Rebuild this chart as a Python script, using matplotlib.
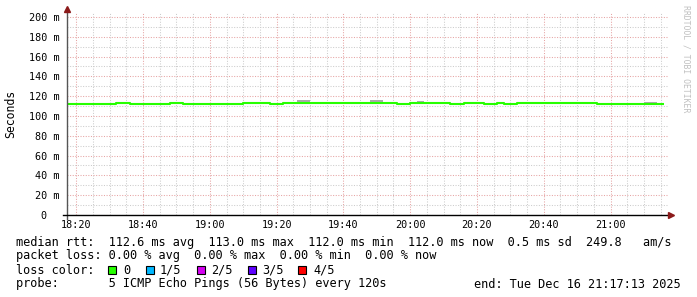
import numpy as np
import pandas as pd
import matplotlib
matplotlib.use("Agg")
import matplotlib.pyplot as plt
import matplotlib.dates as mdates
from matplotlib.patches import Rectangle
from matplotlib.ticker import MultipleLocator, FuncFormatter

#数据
day = "2025-12-16 "
t_start = pd.Timestamp(day + "18:17:13")
t_end = pd.Timestamp(day + "21:17:13")

# median rtt (ms), each value holds until the next time
median_times = ["18:16", "18:32", "18:36", "18:48", "18:52", "19:10", "19:18", "19:22", "19:56",
                "20:00", "20:12", "20:16", "20:22", "20:26", "20:28", "20:32", "20:56", "21:16"]
median_ms = [112, 113, 112, 113, 112, 113, 112, 113, 112,
             113, 112, 113, 112, 113, 112, 113, 112]

# smoke (spread of the pings)
smoke_start = ["18:42", "19:26", "19:48", "20:02", "21:10"]
smoke_end = ["18:46", "19:30", "19:52", "20:04", "21:14"]
smoke_low = [112, 113, 113, 113, 112]
smoke_high = [113.4, 116.5, 116, 115, 114]

loss_labels = ["0", "1/5", "2/5", "3/5", "4/5"]
loss_colors = ["#26ff00", "#00b8ff", "#d400f0", "#5e00ff", "#ff0000"]

legend_lines = [
    "median rtt:  112.6 ms avg  113.0 ms max  112.0 ms min  112.0 ms now  0.5 ms sd  249.8   am/s",
    "packet loss: 0.00 % avg  0.00 % max  0.00 % min  0.00 % now",
    "loss color:",
    "probe:       5 ICMP Echo Pings (56 Bytes) every 120s",
]
end_text = "end: Tue Dec 16 21:17:13 2025"

#绘图
W, H = 697, 297
mono = "DejaVu Sans Mono"
fig = plt.figure(figsize=(W / 100, H / 100), dpi=100)
fig.patch.set_facecolor("white")

def fx(x):
    return x / W

def fy(y):
    return 1 - y / H

ax_left, ax_right, ax_top, ax_bottom = 67, 668, 13, 215
ax = fig.add_axes([fx(ax_left), fy(ax_bottom), (ax_right - ax_left) / W, (ax_bottom - ax_top) / H])
ax.set_facecolor("white")

tm = [pd.Timestamp(day + t) for t in median_times]
ax.step(tm, median_ms + [median_ms[-1]], where="post", color="#26ff00", lw=1.5,
        solid_capstyle="butt", zorder=3)

for s, e, lo, hi in zip(smoke_start, smoke_end, smoke_low, smoke_high):
    ax.fill_between([pd.Timestamp(day + s), pd.Timestamp(day + e)], lo, hi,
                    color="#aaaaaa", lw=0, zorder=2)

ax.set_xlim(t_start, t_end)
ax.set_ylim(0, 204)

ax.xaxis.set_major_locator(mdates.MinuteLocator(byminute=[0, 20, 40]))
ax.xaxis.set_minor_locator(mdates.MinuteLocator(byminute=range(0, 60, 5)))
ax.xaxis.set_major_formatter(mdates.DateFormatter("%H:%M"))
ax.yaxis.set_major_locator(MultipleLocator(20))
ax.yaxis.set_minor_locator(MultipleLocator(10))
ax.yaxis.set_major_formatter(FuncFormatter(lambda v, p: "0  " if v == 0 else "%d m" % v))

ax.grid(which="major", color="#e6a4a4", lw=0.75, linestyle=(0, (1, 1.5)))
ax.grid(which="minor", color="#cccccc", lw=0.75, linestyle=(0, (1, 1.5)))
ax.set_axisbelow(True)

ax.tick_params(which="both", length=0)
ax.tick_params(axis="x", pad=3.5, labelsize=7.3)
ax.tick_params(axis="y", pad=5.5, labelsize=7.3)
for lab in ax.get_xticklabels() + ax.get_yticklabels():
    lab.set_fontfamily(mono)

for sp in ax.spines.values():
    sp.set_visible(False)

# axes with arrows
ax.plot([0, 0], [-0.02, 1.015], transform=ax.transAxes, color="#555555", lw=1, clip_on=False, zorder=4)
ax.plot([-0.007, 1.003], [0, 0], transform=ax.transAxes, color="#000000", lw=1, clip_on=False, zorder=4)
ax.plot([0], [1.02], marker="^", ms=4, color="#8b1a1a", transform=ax.transAxes, clip_on=False, zorder=5)
ax.plot([1.005], [0], marker=">", ms=4, color="#8b1a1a", transform=ax.transAxes, clip_on=False, zorder=5)

fig.text(fx(11), fy(114), "Seconds", rotation=90, ha="center", va="center",
         fontsize=8.3, family=mono, color="black")
fig.text(fx(686), fy(5), "RRDTOOL / TOBI OETIKER", rotation=270, ha="center", va="top",
         fontsize=5.9, family=mono, color="#c0c0c0")

fs = 8.55
baselines = [246, 259.5, 273.5, 287.5]
for line, yb in zip(legend_lines, baselines):
    fig.text(fx(16), fy(yb), line, ha="left", va="baseline", fontsize=fs, family=mono, color="black")
fig.text(fx(681), fy(baselines[3]), end_text, ha="right", va="baseline", fontsize=fs,
         family=mono, color="black")

box_x = [108, 146, 197, 248, 298]
label_x = [123, 160, 211, 262, 313]
for bx, lx, c, lab in zip(box_x, label_x, loss_colors, loss_labels):
    fig.patches.append(Rectangle((fx(bx), fy(273.5)), 8 / W, 8 / H, transform=fig.transFigure,
                                 facecolor=c, edgecolor="black", lw=0.8, figure=fig))
    fig.text(fx(lx), fy(baselines[2]), lab, ha="left", va="baseline", fontsize=fs,
             family=mono, color="black")

fig.savefig("out.png", dpi=100, facecolor="white")
